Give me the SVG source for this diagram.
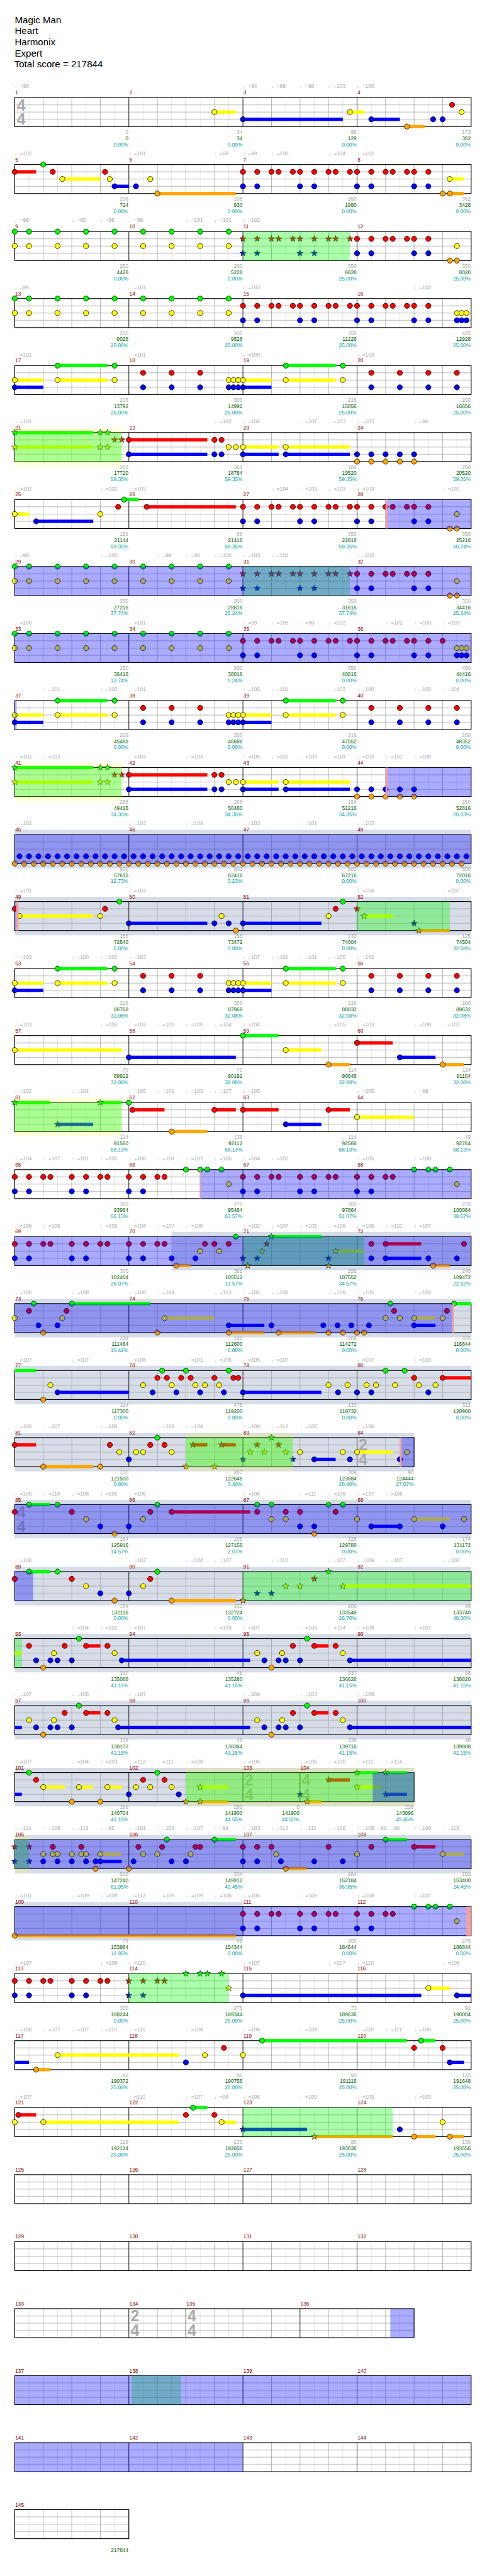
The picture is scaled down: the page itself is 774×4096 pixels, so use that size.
<svg xmlns="http://www.w3.org/2000/svg" width="774" height="4096" viewBox="0 0 774 4096">
<style>
text{font-family:"Liberation Sans",Arial,"DejaVu Sans",sans-serif;font-size:11px}
.hd{font-size:20px;fill:#000}
.tp{fill:#a8a8a8}
.mn{fill:#8b0000}
.nm{text-anchor:end;fill:#a8a8a8}
.n2{fill:#006400}.n3{fill:#00a0a0}
.ts{font-size:33px;font-weight:bold;fill:#aaa}
.bg{fill:#fff}.gb{fill:#d6dde8}.gr{fill:url(#gp)}
.ml{stroke:#000;stroke-width:1;fill:none}
.bd{fill:none;stroke:#000;stroke-width:1.5}
.oy{fill:#ff0;opacity:.15}.og{fill:#0f0;opacity:.33}.ob{fill:#00f;opacity:.33}.pk{fill:#f4a0a0}
.zG{fill:#0f0}.zR{fill:#f00}.zY{fill:#ff0}.zB{fill:#00f}.zO{fill:#ffa500}
</style>
<defs>
<pattern id="gp" x="-15" width="60" height="61" patternUnits="userSpaceOnUse"><path d="M45,0V61" stroke="#dcdcdc"/><path d="M15,0V61M0,15.25H60M0,30.5H60M0,45.75H60" stroke="#a0a0a0"/></pattern>
<circle id="cG" r="5.5" fill="#0f0" stroke="#000"/>
<circle id="cR" cy="15.25" r="5.5" fill="#f00" stroke="#000"/>
<circle id="cY" cy="30.5" r="5.5" fill="#ff0" stroke="#000"/>
<circle id="cB" cy="45.75" r="5.5" fill="#00f" stroke="#000"/>
<circle id="cO" cy="61" r="5.5" fill="#ffa500" stroke="#000"/>
<path id="st" d="M0,-7L1.65,-2.27 6.66,-2.16 2.66,0.87 4.11,5.66 0,2.8-4.11,5.66-2.66,0.87-6.66,-2.16-1.65,-2.27Z" stroke="#000" stroke-width=".8"/>
<use id="sG" href="#st" fill="#0f0"/>
<use id="sR" href="#st" y="15.25" fill="#f00"/>
<use id="sY" href="#st" y="30.5" fill="#ff0"/>
<use id="sB" href="#st" y="45.75" fill="#00f"/>
<use id="sO" href="#st" y="61" fill="#ffa500"/>
<g id="gy"><use href="#cG"/><use href="#cY"/></g>
<g id="gyrow"><use href="#gy"/><use href="#gy" x="30"/><use href="#gy" x="90"/><use href="#gy" x="150"/><use href="#gy" x="210"/><use href="#gy" x="270"/><use href="#gy" x="330"/><use href="#gy" x="390"/><use href="#gy" x="450"/></g>
<g id="rr"><use href="#cR"/><use href="#cR" x="30"/><use href="#cR" x="60"/><use href="#cR" x="75"/><use href="#cR" x="105"/><use href="#cR" x="120"/><use href="#cR" x="150"/><use href="#cR" x="180"/><use href="#cR" x="195"/><use href="#cR" x="225"/><use href="#cR" x="240"/><use href="#cR" x="270"/><use href="#cR" x="300"/><use href="#cR" x="315"/><use href="#cR" x="345"/><use href="#cR" x="360"/><use href="#cR" x="390"/><use href="#cB"/><use href="#cB" x="30"/><use href="#cB" x="120"/><use href="#cB" x="150"/><use href="#cB" x="240"/><use href="#cB" x="270"/><use href="#cB" x="360"/><use href="#cB" x="390"/></g>
<g id="r8"><use href="#cR"/><use href="#cR" x="30"/><use href="#cR" x="60"/><use href="#cR" x="75"/><use href="#cR" x="120"/><use href="#cR" x="150"/><use href="#cR" x="180"/><use href="#cR" x="195"/><use href="#cR" x="240"/><use href="#cR" x="270"/><use href="#cR" x="300"/><use href="#cR" x="315"/><use href="#cB"/><use href="#cB" x="30"/><use href="#cB" x="120"/><use href="#cB" x="150"/><use href="#cB" x="240"/><use href="#cB" x="270"/></g>
<g id="pA"><rect class="zG" x="90" y="-3.5" width="105" height="7"/><rect class="zG" x="570" y="-3.5" width="105" height="7"/><rect class="zY" x="0" y="27" width="60" height="7"/><rect class="zY" x="90" y="27" width="105" height="7"/><rect class="zY" x="480" y="27" width="60" height="7"/><rect class="zY" x="570" y="27" width="105" height="7"/><rect class="zB" x="0" y="42.25" width="60" height="7"/><rect class="zB" x="480" y="42.25" width="60" height="7"/>
<use href="#cG" x="90"/><use href="#cG" x="210"/><use href="#cG" x="570"/><use href="#cG" x="690"/><use href="#cR" x="270"/><use href="#cR" x="330"/><use href="#cR" x="390"/><use href="#cR" x="750"/><use href="#cR" x="810"/><use href="#cR" x="870"/><use href="#cR" x="930"/><use href="#cY"/><use href="#cY" x="90"/><use href="#cY" x="210"/><use href="#cY" x="450"/><use href="#cY" x="460"/><use href="#cY" x="470"/><use href="#cY" x="480"/><use href="#cY" x="570"/><use href="#cY" x="690"/><use href="#cB"/><use href="#cB" x="270"/><use href="#cB" x="330"/><use href="#cB" x="390"/><use href="#cB" x="450"/><use href="#cB" x="460"/><use href="#cB" x="470"/><use href="#cB" x="480"/><use href="#cB" x="750"/><use href="#cB" x="810"/><use href="#cB" x="870"/><use href="#cB" x="930"/></g>
<g id="pB"><use href="#gyrow"/><use href="#sR" x="480"/><use href="#sR" x="510"/><use href="#sR" x="540"/><use href="#sR" x="555"/><use href="#sR" x="585"/><use href="#sR" x="600"/><use href="#sR" x="630"/><use href="#sR" x="660"/><use href="#sR" x="675"/><use href="#sR" x="705"/><use href="#sB" x="480"/><use href="#sB" x="510"/><use href="#sB" x="600"/><use href="#sB" x="630"/><use href="#cR" x="720"/><use href="#cR" x="750"/><use href="#cR" x="780"/><use href="#cR" x="795"/><use href="#cR" x="825"/><use href="#cR" x="840"/><use href="#cR" x="870"/><use href="#cB" x="720"/><use href="#cB" x="750"/><use href="#cB" x="840"/><use href="#cB" x="870"/><use href="#cY" x="930"/><use href="#cO" x="915"/><use href="#cO" x="930"/></g>
<g id="pC"><rect class="zG" x="0" y="-3.5" width="165" height="7"/><rect class="zY" x="0" y="27" width="165" height="7"/><rect class="zR" x="240" y="11.75" width="165" height="7"/><rect class="zB" x="240" y="42.25" width="165" height="7"/><rect class="zY" x="480" y="27" width="75" height="7"/><rect class="zY" x="570" y="27" width="135" height="7"/><rect class="zB" x="480" y="42.25" width="75" height="7"/><rect class="zB" x="570" y="42.25" width="135" height="7"/>
<use href="#sG"/><use href="#sG" x="180"/><use href="#sG" x="195"/><use href="#sY"/><use href="#sY" x="180"/><use href="#sY" x="195"/><use href="#sR" x="210"/><use href="#sR" x="225"/><use href="#cR" x="240"/><use href="#cR" x="420"/><use href="#cR" x="435"/><use href="#cY" x="450"/><use href="#cY" x="465"/><use href="#cY" x="480"/><use href="#cY" x="570"/><use href="#cB" x="240"/><use href="#cB" x="420"/><use href="#cB" x="435"/><use href="#cB" x="480"/><use href="#cB" x="570"/><use href="#cB" x="720"/><use href="#cB" x="750"/><use href="#cB" x="780"/><use href="#cB" x="810"/><use href="#cB" x="840"/><use href="#cO" x="720"/><use href="#cO" x="750"/><use href="#cO" x="780"/><use href="#cO" x="810"/><use href="#cO" x="840"/></g>
<g id="tr6"><use href="#cO"/><use href="#cB" x="10"/><use href="#cO" x="20"/><use href="#cB" x="30"/><use href="#cO" x="40"/><use href="#cB" x="50"/></g>
<g id="stf"><rect class="bg" width="960" height="61"/><rect class="gr" width="960" height="61"/><path class="ml" d="M240,0V61M480,0V61M720,0V61"/><rect class="bd" width="960" height="61"/></g>
<g id="stfg"><rect class="bg" width="960" height="61"/><rect class="gb" y="-10" width="960" height="81"/><rect class="gr" width="960" height="61"/><path class="ml" d="M240,0V61M480,0V61M720,0V61"/><rect class="bd" width="960" height="61"/></g>
</defs>
<g transform="scale(0.7556)">
<g id="header"><text class="hd" x="31" y="49">Magic Man</text><text class="hd" x="31" y="72">Heart</text><text class="hd" x="31" y="95">Harmonix</text><text class="hd" x="31" y="119">Expert</text><text class="hd" x="30" y="141">Total score = 217844</text></g>

<g id="row1" transform="translate(31,205.3)"><use href="#stf"/>
<text class="ts" x="4.5" y="27">4</text><text class="ts" x="4.5" y="57">4</text>
<rect class="zY" x="420" y="27" width="45" height="7"/><rect class="zB" x="480" y="42.25" width="210" height="7"/><rect class="zY" x="705" y="27" width="30" height="7"/><rect class="zB" x="750" y="42.25" width="60" height="7"/><rect class="zO" x="825" y="57.5" width="37.5" height="7"/>
<use href="#cY" x="420"/><use href="#cB" x="480"/><use href="#cY" x="705"/><use href="#cB" x="750"/><use href="#cO" x="825"/><use href="#cB" x="880"/><use href="#cB" x="900"/><use href="#cR" x="920"/><use href="#cY" x="940"/>
<text class="tp" x="0" y="-19.5">♩=98</text><text class="tp" x="480" y="-19.5">♩=94</text><text class="tp" x="540" y="-19.5">♩=99</text><text class="tp" x="600" y="-19.5">♩=98</text><text class="tp" x="660" y="-19.5">♩=103</text><text class="tp" x="720" y="-19.5">♩=100</text>
<text class="mn" x="1" y="-6.5">1</text><text class="mn" x="241" y="-6.5">2</text><text class="mn" x="481" y="-6.5">3</text><text class="mn" x="721" y="-6.5">4</text>
<text class="nm" y="76.5"><tspan x="239">0</tspan><tspan class="n2" x="239" dy="13">0</tspan><tspan class="n3" x="239" dy="13">0.00%</tspan></text><text class="nm" y="76.5"><tspan x="479">34</tspan><tspan class="n2" x="479" dy="13">34</tspan><tspan class="n3" x="479" dy="13">0.00%</tspan></text><text class="nm" y="76.5"><tspan x="719">95</tspan><tspan class="n2" x="719" dy="13">129</tspan><tspan class="n3" x="719" dy="13">0.00%</tspan></text><text class="nm" y="76.5"><tspan x="959">173</tspan><tspan class="n2" x="959" dy="13">302</tspan><tspan class="n3" x="959" dy="13">0.00%</tspan></text>
</g>

<g id="row2" transform="translate(31,346.3)"><use href="#stf"/>
<rect class="zR" x="0" y="11.75" width="45" height="7"/><rect class="zY" x="100" y="27" width="80" height="7"/><rect class="zB" x="210" y="42.25" width="30" height="7"/><rect class="zO" x="300" y="57.5" width="165" height="7"/><rect class="zY" x="915" y="27" width="30" height="7"/><rect class="zO" x="915" y="57.5" width="30" height="7"/>
<use href="#cR"/><use href="#cG" x="60"/><use href="#cR" x="80"/><use href="#cY" x="100"/><use href="#cR" x="190"/><use href="#cY" x="200"/><use href="#cB" x="210"/><use href="#cB" x="255"/><use href="#cY" x="285"/><use href="#cO" x="300"/><use href="#rr" x="480"/><use href="#cO" x="900"/><use href="#cO" x="915"/><use href="#cY" x="915"/>
<text class="tp" x="0" y="-19.5">♩=102</text><text class="tp" x="240" y="-19.5">♩=101</text><text class="tp" x="420" y="-19.5">♩=99</text><text class="tp" x="480" y="-19.5">♩=99</text><text class="tp" x="540" y="-19.5">♩=100</text><text class="tp" x="660" y="-19.5">♩=104</text><text class="tp" x="720" y="-19.5">♩=102</text>
<text class="mn" x="1" y="-6.5">5</text><text class="mn" x="241" y="-6.5">6</text><text class="mn" x="481" y="-6.5">7</text><text class="mn" x="721" y="-6.5">8</text>
<text class="nm" y="76.5"><tspan x="239">206</tspan><tspan class="n2" x="239" dy="13">714</tspan><tspan class="n3" x="239" dy="13">0.00%</tspan></text><text class="nm" y="76.5"><tspan x="479">108</tspan><tspan class="n2" x="479" dy="13">930</tspan><tspan class="n3" x="479" dy="13">0.00%</tspan></text><text class="nm" y="76.5"><tspan x="719">350</tspan><tspan class="n2" x="719" dy="13">1980</tspan><tspan class="n3" x="719" dy="13">0.00%</tspan></text><text class="nm" y="76.5"><tspan x="959">362</tspan><tspan class="n2" x="959" dy="13">3428</tspan><tspan class="n3" x="959" dy="13">0.00%</tspan></text>
</g>

<g id="row3" transform="translate(31,487.3)"><use href="#stf"/><use href="#pB"/>
<rect class="og" x="480" width="225" height="61"/>
<text class="tp" x="0" y="-19.5">♩=99</text><text class="tp" x="120" y="-19.5">♩=95</text><text class="tp" x="180" y="-19.5">♩=96</text><text class="tp" x="240" y="-19.5">♩=99</text><text class="tp" x="360" y="-19.5">♩=101</text><text class="tp" x="420" y="-19.5">♩=101</text><text class="tp" x="480" y="-19.5">♩=102</text>
<text class="mn" x="1" y="-6.5">9</text><text class="mn" x="241" y="-6.5">10</text><text class="mn" x="481" y="-6.5">11</text><text class="mn" x="721" y="-6.5">12</text>
<text class="nm" y="76.5"><tspan x="239">250</tspan><tspan class="n2" x="239" dy="13">4428</tspan><tspan class="n3" x="239" dy="13">0.00%</tspan></text><text class="nm" y="76.5"><tspan x="479">200</tspan><tspan class="n2" x="479" dy="13">5228</tspan><tspan class="n3" x="479" dy="13">0.00%</tspan></text><text class="nm" y="76.5"><tspan x="719">350</tspan><tspan class="n2" x="719" dy="13">6628</tspan><tspan class="n3" x="719" dy="13">25.00%</tspan></text><text class="nm" y="76.5"><tspan x="959">350</tspan><tspan class="n2" x="959" dy="13">8028</tspan><tspan class="n3" x="959" dy="13">25.00%</tspan></text>
</g>

<g id="row4" transform="translate(31,628.3)"><use href="#stf"/>
<use href="#gyrow"/><use href="#rr" x="480"/><use href="#cY" x="930"/><use href="#cY" x="940"/><use href="#cY" x="950"/><use href="#cB" x="930"/><use href="#cB" x="940"/><use href="#cB" x="950"/>
<text class="tp" x="0" y="-19.5">♩=99</text><text class="tp" x="240" y="-19.5">♩=101</text><text class="tp" x="480" y="-19.5">♩=103</text><text class="tp" x="840" y="-19.5">♩=102</text>
<text class="mn" x="1" y="-6.5">13</text><text class="mn" x="241" y="-6.5">14</text><text class="mn" x="481" y="-6.5">15</text><text class="mn" x="721" y="-6.5">16</text>
<text class="nm" y="76.5"><tspan x="239">250</tspan><tspan class="n2" x="239" dy="13">9028</tspan><tspan class="n3" x="239" dy="13">25.00%</tspan></text><text class="nm" y="76.5"><tspan x="479">200</tspan><tspan class="n2" x="479" dy="13">9828</tspan><tspan class="n3" x="479" dy="13">25.00%</tspan></text><text class="nm" y="76.5"><tspan x="719">350</tspan><tspan class="n2" x="719" dy="13">11228</tspan><tspan class="n3" x="719" dy="13">25.00%</tspan></text><text class="nm" y="76.5"><tspan x="959">425</tspan><tspan class="n2" x="959" dy="13">12928</tspan><tspan class="n3" x="959" dy="13">25.00%</tspan></text>
</g>

<g id="row5" transform="translate(31,769.3)"><use href="#stf"/><use href="#pA"/>
<text class="tp" x="0" y="-19.5">♩=101</text><text class="tp" x="240" y="-19.5">♩=101</text><text class="tp" x="480" y="-19.5">♩=100</text><text class="tp" x="720" y="-19.5">♩=103</text>
<text class="mn" x="1" y="-6.5">17</text><text class="mn" x="241" y="-6.5">18</text><text class="mn" x="481" y="-6.5">19</text><text class="mn" x="721" y="-6.5">20</text>
<text class="nm" y="76.5"><tspan x="239">216</tspan><tspan class="n2" x="239" dy="13">13792</tspan><tspan class="n3" x="239" dy="13">25.00%</tspan></text><text class="nm" y="76.5"><tspan x="479">300</tspan><tspan class="n2" x="479" dy="13">14992</tspan><tspan class="n3" x="479" dy="13">25.00%</tspan></text><text class="nm" y="76.5"><tspan x="719">216</tspan><tspan class="n2" x="719" dy="13">15856</tspan><tspan class="n3" x="719" dy="13">25.00%</tspan></text><text class="nm" y="76.5"><tspan x="959">200</tspan><tspan class="n2" x="959" dy="13">16656</tspan><tspan class="n3" x="959" dy="13">25.00%</tspan></text>
</g>

<g id="row6" transform="translate(31,910.3)"><use href="#stf"/><use href="#pC"/>
<rect class="oy" y="-10" width="225" height="81"/><rect class="og" width="225" height="61"/>
<text class="tp" x="0" y="-19.5">♩=101</text><text class="tp" x="420" y="-19.5">♩=102</text><text class="tp" x="480" y="-19.5">♩=104</text><text class="tp" x="600" y="-19.5">♩=107</text><text class="tp" x="660" y="-19.5">♩=103</text><text class="tp" x="720" y="-19.5">♩=103</text><text class="tp" x="840" y="-19.5">♩=96</text>
<text class="mn" x="1" y="-6.5">21</text><text class="mn" x="241" y="-6.5">22</text><text class="mn" x="481" y="-6.5">23</text><text class="mn" x="721" y="-6.5">24</text>
<text class="nm" y="76.5"><tspan x="239">266</tspan><tspan class="n2" x="239" dy="13">17720</tspan><tspan class="n3" x="239" dy="13">59.35%</tspan></text><text class="nm" y="76.5"><tspan x="479">266</tspan><tspan class="n2" x="479" dy="13">18784</tspan><tspan class="n3" x="479" dy="13">59.35%</tspan></text><text class="nm" y="76.5"><tspan x="719">184</tspan><tspan class="n2" x="719" dy="13">19520</tspan><tspan class="n3" x="719" dy="13">59.35%</tspan></text><text class="nm" y="76.5"><tspan x="959">250</tspan><tspan class="n2" x="959" dy="13">20520</tspan><tspan class="n3" x="959" dy="13">59.35%</tspan></text>
</g>

<g id="row7" transform="translate(31,1051.3)"><use href="#stf"/>
<rect class="zY" x="0" y="27" width="30" height="7"/><rect class="zB" x="45" y="42.25" width="120" height="7"/><rect class="zG" x="230" y="-3.5" width="31" height="7"/><rect class="zR" x="277.5" y="11.75" width="187.5" height="7"/>
<use href="#cY"/><use href="#cB" x="45"/><use href="#cY" x="180"/><use href="#cR" x="217.5"/><use href="#cG" x="230"/><use href="#cR" x="277.5"/><use href="#rr" x="480"/><use href="#cY" x="930"/><use href="#cO" x="915"/><use href="#cO" x="930"/>
<rect class="ob" x="780" width="180" height="61"/><rect class="pk" x="780" width="4" height="61"/>
<text class="tp" x="0" y="-19.5">♩=101</text><text class="tp" x="180" y="-19.5">♩=102</text><text class="tp" x="240" y="-19.5">♩=102</text><text class="tp" x="540" y="-19.5">♩=104</text><text class="tp" x="600" y="-19.5">♩=102</text><text class="tp" x="660" y="-19.5">♩=103</text><text class="tp" x="720" y="-19.5">♩=103</text><text class="tp" x="900" y="-19.5">♩=102</text>
<text class="mn" x="1" y="-6.5">25</text><text class="mn" x="241" y="-6.5">26</text><text class="mn" x="481" y="-6.5">27</text><text class="mn" x="721" y="-6.5">28</text>
<text class="nm" y="76.5"><tspan x="239">156</tspan><tspan class="n2" x="239" dy="13">21144</tspan><tspan class="n3" x="239" dy="13">59.35%</tspan></text><text class="nm" y="76.5"><tspan x="479">68</tspan><tspan class="n2" x="479" dy="13">21416</tspan><tspan class="n3" x="479" dy="13">59.35%</tspan></text><text class="nm" y="76.5"><tspan x="719">350</tspan><tspan class="n2" x="719" dy="13">22816</tspan><tspan class="n3" x="719" dy="13">59.35%</tspan></text><text class="nm" y="76.5"><tspan x="959">350</tspan><tspan class="n2" x="959" dy="13">25216</tspan><tspan class="n3" x="959" dy="13">50.24%</tspan></text>
</g>

<g id="row8" transform="translate(31,1192.3)"><use href="#stf"/><use href="#pB"/>
<rect class="og" x="480" width="225" height="61"/><rect class="ob" width="960" height="61"/>
<text class="tp" x="0" y="-19.5">♩=99</text><text class="tp" x="180" y="-19.5">♩=100</text><text class="tp" x="300" y="-19.5">♩=99</text><text class="tp" x="360" y="-19.5">♩=98</text><text class="tp" x="420" y="-19.5">♩=100</text><text class="tp" x="480" y="-19.5">♩=103</text><text class="tp" x="540" y="-19.5">♩=102</text><text class="tp" x="720" y="-19.5">♩=102</text>
<text class="mn" x="1" y="-6.5">29</text><text class="mn" x="241" y="-6.5">30</text><text class="mn" x="481" y="-6.5">31</text><text class="mn" x="721" y="-6.5">32</text>
<text class="nm" y="76.5"><tspan x="239">250</tspan><tspan class="n2" x="239" dy="13">27216</tspan><tspan class="n3" x="239" dy="13">37.74%</tspan></text><text class="nm" y="76.5"><tspan x="479">200</tspan><tspan class="n2" x="479" dy="13">28816</tspan><tspan class="n3" x="479" dy="13">25.24%</tspan></text><text class="nm" y="76.5"><tspan x="719">350</tspan><tspan class="n2" x="719" dy="13">31616</tspan><tspan class="n3" x="719" dy="13">37.74%</tspan></text><text class="nm" y="76.5"><tspan x="959">350</tspan><tspan class="n2" x="959" dy="13">34416</tspan><tspan class="n3" x="959" dy="13">25.24%</tspan></text>
</g>

<g id="row9" transform="translate(31,1333.3)"><use href="#stf"/>
<use href="#gyrow"/><use href="#rr" x="480"/><use href="#cR" x="900"/><use href="#cY" x="930"/><use href="#cY" x="940"/><use href="#cY" x="950"/><use href="#cB" x="930"/><use href="#cB" x="940"/><use href="#cB" x="950"/>
<rect class="ob" width="960" height="61"/>
<text class="tp" x="0" y="-19.5">♩=100</text><text class="tp" x="240" y="-19.5">♩=101</text><text class="tp" x="480" y="-19.5">♩=99</text><text class="tp" x="540" y="-19.5">♩=105</text><text class="tp" x="600" y="-19.5">♩=99</text><text class="tp" x="660" y="-19.5">♩=102</text><text class="tp" x="780" y="-19.5">♩=102</text><text class="tp" x="840" y="-19.5">♩=103</text><text class="tp" x="900" y="-19.5">♩=103</text>
<text class="mn" x="1" y="-6.5">33</text><text class="mn" x="241" y="-6.5">34</text><text class="mn" x="481" y="-6.5">35</text><text class="mn" x="721" y="-6.5">36</text>
<text class="nm" y="76.5"><tspan x="239">250</tspan><tspan class="n2" x="239" dy="13">36416</tspan><tspan class="n3" x="239" dy="13">12.74%</tspan></text><text class="nm" y="76.5"><tspan x="479">200</tspan><tspan class="n2" x="479" dy="13">38016</tspan><tspan class="n3" x="479" dy="13">0.24%</tspan></text><text class="nm" y="76.5"><tspan x="719">350</tspan><tspan class="n2" x="719" dy="13">40816</tspan><tspan class="n3" x="719" dy="13">0.00%</tspan></text><text class="nm" y="76.5"><tspan x="959">450</tspan><tspan class="n2" x="959" dy="13">44416</tspan><tspan class="n3" x="959" dy="13">0.00%</tspan></text>
</g>

<g id="row10" transform="translate(31,1474.3)"><use href="#stf"/><use href="#pA"/>
<rect class="ob" width="4" height="61"/>
<text class="tp" x="60" y="-19.5">♩=101</text><text class="tp" x="180" y="-19.5">♩=103</text><text class="tp" x="240" y="-19.5">♩=101</text><text class="tp" x="480" y="-19.5">♩=105</text><text class="tp" x="540" y="-19.5">♩=101</text><text class="tp" x="660" y="-19.5">♩=103</text><text class="tp" x="720" y="-19.5">♩=100</text><text class="tp" x="840" y="-19.5">♩=102</text><text class="tp" x="900" y="-19.5">♩=104</text>
<text class="mn" x="1" y="-6.5">37</text><text class="mn" x="241" y="-6.5">38</text><text class="mn" x="481" y="-6.5">39</text><text class="mn" x="721" y="-6.5">40</text>
<text class="nm" y="76.5"><tspan x="239">216</tspan><tspan class="n2" x="239" dy="13">45488</tspan><tspan class="n3" x="239" dy="13">0.00%</tspan></text><text class="nm" y="76.5"><tspan x="479">300</tspan><tspan class="n2" x="479" dy="13">46688</tspan><tspan class="n3" x="479" dy="13">0.00%</tspan></text><text class="nm" y="76.5"><tspan x="719">216</tspan><tspan class="n2" x="719" dy="13">47552</tspan><tspan class="n3" x="719" dy="13">0.00%</tspan></text><text class="nm" y="76.5"><tspan x="959">200</tspan><tspan class="n2" x="959" dy="13">48352</tspan><tspan class="n3" x="959" dy="13">0.00%</tspan></text>
</g>

<g id="row11" transform="translate(31,1615.3)"><use href="#stf"/><use href="#pC"/>
<rect class="oy" y="-10" width="225" height="81"/><rect class="og" width="225" height="61"/><rect class="ob" x="780" width="180" height="61"/><rect class="pk" x="780" width="4" height="61"/>
<text class="tp" x="0" y="-19.5">♩=103</text><text class="tp" x="60" y="-19.5">♩=103</text><text class="tp" x="240" y="-19.5">♩=103</text><text class="tp" x="360" y="-19.5">♩=103</text><text class="tp" x="480" y="-19.5">♩=105</text><text class="tp" x="540" y="-19.5">♩=102</text><text class="tp" x="600" y="-19.5">♩=103</text><text class="tp" x="660" y="-19.5">♩=110</text><text class="tp" x="720" y="-19.5">♩=103</text><text class="tp" x="780" y="-19.5">♩=101</text><text class="tp" x="840" y="-19.5">♩=100</text>
<text class="mn" x="1" y="-6.5">41</text><text class="mn" x="241" y="-6.5">42</text><text class="mn" x="481" y="-6.5">43</text><text class="mn" x="721" y="-6.5">44</text>
<text class="nm" y="76.5"><tspan x="239">266</tspan><tspan class="n2" x="239" dy="13">49416</tspan><tspan class="n3" x="239" dy="13">34.35%</tspan></text><text class="nm" y="76.5"><tspan x="479">266</tspan><tspan class="n2" x="479" dy="13">50480</tspan><tspan class="n3" x="479" dy="13">34.35%</tspan></text><text class="nm" y="76.5"><tspan x="719">184</tspan><tspan class="n2" x="719" dy="13">51216</tspan><tspan class="n3" x="719" dy="13">34.35%</tspan></text><text class="nm" y="76.5"><tspan x="959">250</tspan><tspan class="n2" x="959" dy="13">52816</tspan><tspan class="n3" x="959" dy="13">25.23%</tspan></text>
</g>

<g id="row12" transform="translate(31,1756.3)"><use href="#stfg"/>
<use href="#tr6"/><use href="#tr6" x="60"/><use href="#tr6" x="120"/><use href="#tr6" x="180"/><use href="#tr6" x="240"/><use href="#tr6" x="300"/><use href="#tr6" x="360"/><use href="#tr6" x="420"/><use href="#tr6" x="480"/><use href="#tr6" x="540"/><use href="#tr6" x="600"/><use href="#tr6" x="660"/><use href="#tr6" x="720"/><use href="#tr6" x="780"/><use href="#tr6" x="840"/><use href="#tr6" x="900"/>
<rect class="ob" width="960" height="61"/>
<text class="tp" x="0" y="-19.5">♩=102</text><text class="tp" x="240" y="-19.5">♩=103</text><text class="tp" x="360" y="-19.5">♩=104</text><text class="tp" x="480" y="-19.5">♩=103</text><text class="tp" x="600" y="-19.5">♩=101</text><text class="tp" x="720" y="-19.5">♩=103</text>
<text class="mn" x="1" y="-6.5">45</text><text class="mn" x="241" y="-6.5">46</text><text class="mn" x="481" y="-6.5">47</text><text class="mn" x="721" y="-6.5">48</text>
<text class="nm" y="76.5"><tspan x="239">600</tspan><tspan class="n2" x="239" dy="13">57616</tspan><tspan class="n3" x="239" dy="13">12.73%</tspan></text><text class="nm" y="76.5"><tspan x="479">600</tspan><tspan class="n2" x="479" dy="13">62416</tspan><tspan class="n3" x="479" dy="13">0.23%</tspan></text><text class="nm" y="76.5"><tspan x="719">600</tspan><tspan class="n2" x="719" dy="13">67216</tspan><tspan class="n3" x="719" dy="13">0.00%</tspan></text><text class="nm" y="76.5"><tspan x="959">600</tspan><tspan class="n2" x="959" dy="13">72016</tspan><tspan class="n3" x="959" dy="13">0.00%</tspan></text>
</g>

<g id="row13" transform="translate(31,1897.3)"><use href="#stfg"/>
<rect class="zY" x="10" y="27" width="155" height="7"/><rect class="zB" x="240" y="42.25" width="165" height="7"/><rect class="zB" x="480" y="42.25" width="165" height="7"/><rect class="zY" x="735" y="27" width="60" height="7"/><rect class="zO" x="850" y="57.5" width="65" height="7"/>
<use href="#cR"/><use href="#cY" x="10"/><use href="#cY" x="180"/><use href="#cR" x="190"/><use href="#cG" x="220"/><use href="#cB" x="240"/><use href="#cB" x="420"/><use href="#cY" x="435"/><use href="#cB" x="450"/><use href="#cO" x="465"/><use href="#cB" x="480"/><use href="#cY" x="660"/><use href="#cR" x="675"/><use href="#cG" x="690"/><use href="#sR" x="720"/><use href="#sY" x="735"/><use href="#sB" x="840"/><use href="#sO" x="850"/>
<rect class="og" x="720" width="195" height="61"/><rect class="ob" width="3" height="61"/><rect class="pk" x="3" width="5" height="61"/>
<text class="tp" x="0" y="-19.5">♩=101</text><text class="tp" x="240" y="-19.5">♩=103</text><text class="tp" x="720" y="-19.5">♩=104</text><text class="tp" x="900" y="-19.5">♩=107</text>
<text class="mn" x="1" y="-6.5">49</text><text class="mn" x="241" y="-6.5">50</text><text class="mn" x="481" y="-6.5">51</text><text class="mn" x="721" y="-6.5">52</text>
<text class="nm" y="76.5"><tspan x="239">156</tspan><tspan class="n2" x="239" dy="13">72840</tspan><tspan class="n3" x="239" dy="13">0.00%</tspan></text><text class="nm" y="76.5"><tspan x="479">158</tspan><tspan class="n2" x="479" dy="13">73472</tspan><tspan class="n3" x="479" dy="13">0.00%</tspan></text><text class="nm" y="76.5"><tspan x="719">133</tspan><tspan class="n2" x="719" dy="13">74004</tspan><tspan class="n3" x="719" dy="13">0.00%</tspan></text><text class="nm" y="76.5"><tspan x="959">125</tspan><tspan class="n2" x="959" dy="13">74504</tspan><tspan class="n3" x="959" dy="13">32.08%</tspan></text>
</g>

<g id="row14" transform="translate(31,2038.3)"><use href="#stf"/><use href="#pA"/>
<text class="tp" x="0" y="-19.5">♩=103</text><text class="tp" x="120" y="-19.5">♩=100</text><text class="tp" x="180" y="-19.5">♩=102</text><text class="tp" x="240" y="-19.5">♩=103</text><text class="tp" x="480" y="-19.5">♩=107</text><text class="tp" x="540" y="-19.5">♩=101</text><text class="tp" x="600" y="-19.5">♩=101</text><text class="tp" x="660" y="-19.5">♩=105</text><text class="tp" x="720" y="-19.5">♩=102</text>
<text class="mn" x="1" y="-6.5">53</text><text class="mn" x="241" y="-6.5">54</text><text class="mn" x="481" y="-6.5">55</text><text class="mn" x="721" y="-6.5">56</text>
<text class="nm" y="76.5"><tspan x="239">216</tspan><tspan class="n2" x="239" dy="13">86768</tspan><tspan class="n3" x="239" dy="13">32.08%</tspan></text><text class="nm" y="76.5"><tspan x="479">300</tspan><tspan class="n2" x="479" dy="13">87968</tspan><tspan class="n3" x="479" dy="13">32.08%</tspan></text><text class="nm" y="76.5"><tspan x="719">216</tspan><tspan class="n2" x="719" dy="13">88832</tspan><tspan class="n3" x="719" dy="13">32.08%</tspan></text><text class="nm" y="76.5"><tspan x="959">200</tspan><tspan class="n2" x="959" dy="13">89632</tspan><tspan class="n3" x="959" dy="13">32.08%</tspan></text>
</g>

<g id="row15" transform="translate(31,2179.3)"><use href="#stf"/>
<rect class="zG" x="480" y="-3.5" width="75" height="7"/><rect class="zR" x="720" y="11.75" width="75" height="7"/><rect class="zY" x="0" y="27" width="225" height="7"/><rect class="zY" x="570" y="27" width="75" height="7"/><rect class="zB" x="240" y="42.25" width="225" height="7"/><rect class="zB" x="810" y="42.25" width="75" height="7"/><rect class="zO" x="660" y="57.5" width="45" height="7"/><rect class="zO" x="900" y="57.5" width="45" height="7"/>
<use href="#cG" x="480"/><use href="#cR" x="720"/><use href="#cY"/><use href="#cY" x="570"/><use href="#cB" x="240"/><use href="#cB" x="810"/><use href="#cO" x="660"/><use href="#cO" x="900"/>
<text class="tp" x="0" y="-19.5">♩=103</text><text class="tp" x="180" y="-19.5">♩=105</text><text class="tp" x="240" y="-19.5">♩=103</text><text class="tp" x="300" y="-19.5">♩=102</text><text class="tp" x="360" y="-19.5">♩=100</text><text class="tp" x="420" y="-19.5">♩=104</text><text class="tp" x="480" y="-19.5">♩=104</text><text class="tp" x="660" y="-19.5">♩=105</text><text class="tp" x="720" y="-19.5">♩=103</text><text class="tp" x="840" y="-19.5">♩=108</text><text class="tp" x="900" y="-19.5">♩=103</text>
<text class="mn" x="1" y="-6.5">57</text><text class="mn" x="241" y="-6.5">58</text><text class="mn" x="481" y="-6.5">59</text><text class="mn" x="721" y="-6.5">60</text>
<text class="nm" y="76.5"><tspan x="239">70</tspan><tspan class="n2" x="239" dy="13">89912</tspan><tspan class="n3" x="239" dy="13">32.08%</tspan></text><text class="nm" y="76.5"><tspan x="479">70</tspan><tspan class="n2" x="479" dy="13">90192</tspan><tspan class="n3" x="479" dy="13">32.08%</tspan></text><text class="nm" y="76.5"><tspan x="719">114</tspan><tspan class="n2" x="719" dy="13">90648</tspan><tspan class="n3" x="719" dy="13">32.08%</tspan></text><text class="nm" y="76.5"><tspan x="959">114</tspan><tspan class="n2" x="959" dy="13">91104</tspan><tspan class="n3" x="959" dy="13">32.08%</tspan></text>
</g>

<g id="row16" transform="translate(31,2320.3)"><use href="#stf"/>
<rect class="zG" x="0" y="-3.5" width="75" height="7"/><rect class="zG" x="180" y="-3.5" width="45" height="7"/><rect class="zB" x="90" y="42.25" width="75" height="7"/><rect class="zR" x="247.5" y="11.75" width="67.5" height="7"/><rect class="zO" x="330" y="57.5" width="75" height="7"/><rect class="zR" x="420" y="11.75" width="45" height="7"/><rect class="zR" x="480" y="11.75" width="75" height="7"/><rect class="zB" x="570" y="42.25" width="75" height="7"/><rect class="zR" x="660" y="11.75" width="45" height="7"/><rect class="zY" x="720" y="27" width="120" height="7"/>
<use href="#sG"/><use href="#sG" x="180"/><use href="#sB" x="90"/><use href="#cG" x="240"/><use href="#cR" x="247.5"/><use href="#cO" x="330"/><use href="#cR" x="420"/><use href="#cR" x="480"/><use href="#cB" x="570"/><use href="#cR" x="660"/><use href="#cY" x="720"/>
<rect class="oy" y="-10" width="225" height="81"/><rect class="og" width="225" height="61"/>
<text class="tp" x="0" y="-19.5">♩=102</text><text class="tp" x="120" y="-19.5">♩=104</text><text class="tp" x="240" y="-19.5">♩=105</text><text class="tp" x="300" y="-19.5">♩=101</text><text class="tp" x="360" y="-19.5">♩=103</text><text class="tp" x="420" y="-19.5">♩=107</text><text class="tp" x="480" y="-19.5">♩=105</text><text class="tp" x="720" y="-19.5">♩=105</text><text class="tp" x="840" y="-19.5">♩=99</text>
<text class="mn" x="1" y="-6.5">61</text><text class="mn" x="241" y="-6.5">62</text><text class="mn" x="481" y="-6.5">63</text><text class="mn" x="721" y="-6.5">64</text>
<text class="nm" y="76.5"><tspan x="239">114</tspan><tspan class="n2" x="239" dy="13">91560</tspan><tspan class="n3" x="239" dy="13">68.13%</tspan></text><text class="nm" y="76.5"><tspan x="479">138</tspan><tspan class="n2" x="479" dy="13">92112</tspan><tspan class="n3" x="479" dy="13">68.13%</tspan></text><text class="nm" y="76.5"><tspan x="719">114</tspan><tspan class="n2" x="719" dy="13">92568</tspan><tspan class="n3" x="719" dy="13">68.13%</tspan></text><text class="nm" y="76.5"><tspan x="959">49</tspan><tspan class="n2" x="959" dy="13">92764</tspan><tspan class="n3" x="959" dy="13">68.13%</tspan></text>
</g>

<g id="row17" transform="translate(31,2461.3)"><use href="#stf"/>
<use href="#r8"/><use href="#r8" x="480"/><use href="#cG" x="360"/><use href="#cG" x="390"/><use href="#cG" x="405"/><use href="#cG" x="435"/><use href="#cY" x="450"/><use href="#cG" x="840"/><use href="#cG" x="870"/><use href="#cG" x="885"/><use href="#cG" x="915"/><use href="#cY" x="930"/>
<rect class="ob" x="390" width="570" height="61"/><rect class="pk" x="389" width="2" height="61"/>
<text class="tp" x="0" y="-19.5">♩=104</text><text class="tp" x="60" y="-19.5">♩=107</text><text class="tp" x="120" y="-19.5">♩=101</text><text class="tp" x="180" y="-19.5">♩=105</text><text class="tp" x="240" y="-19.5">♩=106</text><text class="tp" x="300" y="-19.5">♩=110</text><text class="tp" x="360" y="-19.5">♩=107</text><text class="tp" x="420" y="-19.5">♩=106</text><text class="tp" x="480" y="-19.5">♩=104</text><text class="tp" x="540" y="-19.5">♩=107</text><text class="tp" x="720" y="-19.5">♩=105</text><text class="tp" x="840" y="-19.5">♩=108</text>
<text class="mn" x="1" y="-6.5">65</text><text class="mn" x="241" y="-6.5">66</text><text class="mn" x="481" y="-6.5">67</text><text class="mn" x="721" y="-6.5">68</text>
<text class="nm" y="76.5"><tspan x="239">300</tspan><tspan class="n2" x="239" dy="13">93964</tspan><tspan class="n3" x="239" dy="13">68.13%</tspan></text><text class="nm" y="76.5"><tspan x="479">275</tspan><tspan class="n2" x="479" dy="13">95464</tspan><tspan class="n3" x="479" dy="13">63.57%</tspan></text><text class="nm" y="76.5"><tspan x="719">300</tspan><tspan class="n2" x="719" dy="13">97864</tspan><tspan class="n3" x="719" dy="13">51.07%</tspan></text><text class="nm" y="76.5"><tspan x="959">275</tspan><tspan class="n2" x="959" dy="13">100064</tspan><tspan class="n3" x="959" dy="13">38.57%</tspan></text>
</g>

<g id="row18" transform="translate(31,2602.3)"><rect class="bg" width="960" height="61"/><rect class="gb" x="330" y="-10" width="630" height="81"/><rect class="gr" width="960" height="61"/><path class="ml" d="M240,0V61M480,0V61M720,0V61"/><rect class="bd" width="960" height="61"/>
<rect class="zO" x="340" y="57.5" width="30" height="7"/><rect class="zG" x="540" y="-3.5" width="105" height="7"/><rect class="zY" x="675" y="27" width="60" height="7"/><rect class="zR" x="780" y="11.75" width="75" height="7"/><rect class="zB" x="780" y="42.25" width="75" height="7"/><rect class="zO" x="880" y="57.5" width="35" height="7"/>
<use href="#r8"/><use href="#cB" x="330"/><use href="#cB" x="380"/><use href="#cO" x="340"/><use href="#cY" x="390"/><use href="#cR" x="400"/><use href="#cR" x="420"/><use href="#cY" x="430"/><use href="#cR" x="450"/><use href="#cG" x="465"/><use href="#sB" x="480"/><use href="#sO" x="490"/><use href="#sB" x="510"/><use href="#sY" x="520"/><use href="#sR" x="530"/><use href="#sG" x="540"/><use href="#sB" x="660"/><use href="#sO" x="660"/><use href="#sY" x="675"/><use href="#cR" x="750"/><use href="#cB" x="750"/><use href="#cR" x="780"/><use href="#cB" x="780"/><use href="#cB" x="870"/><use href="#cO" x="880"/><use href="#cB" x="930"/><use href="#cR" x="945"/>
<rect class="og" x="480" width="255" height="61"/><rect class="ob" width="960" height="61"/>
<text class="tp" x="0" y="-19.5">♩=106</text><text class="tp" x="60" y="-19.5">♩=106</text><text class="tp" x="180" y="-19.5">♩=109</text><text class="tp" x="240" y="-19.5">♩=104</text><text class="tp" x="300" y="-19.5">♩=107</text><text class="tp" x="360" y="-19.5">♩=108</text><text class="tp" x="480" y="-19.5">♩=102</text><text class="tp" x="540" y="-19.5">♩=107</text><text class="tp" x="600" y="-19.5">♩=105</text><text class="tp" x="660" y="-19.5">♩=106</text><text class="tp" x="720" y="-19.5">♩=106</text><text class="tp" x="780" y="-19.5">♩=110</text><text class="tp" x="840" y="-19.5">♩=107</text>
<text class="mn" x="1" y="-6.5">69</text><text class="mn" x="241" y="-6.5">70</text><text class="mn" x="481" y="-6.5">71</text><text class="mn" x="721" y="-6.5">72</text>
<text class="nm" y="76.5"><tspan x="239">300</tspan><tspan class="n2" x="239" dy="13">102464</tspan><tspan class="n3" x="239" dy="13">26.07%</tspan></text><text class="nm" y="76.5"><tspan x="479">381</tspan><tspan class="n2" x="479" dy="13">105512</tspan><tspan class="n3" x="479" dy="13">13.57%</tspan></text><text class="nm" y="76.5"><tspan x="719">255</tspan><tspan class="n2" x="719" dy="13">107552</tspan><tspan class="n3" x="719" dy="13">34.57%</tspan></text><text class="nm" y="76.5"><tspan x="959">240</tspan><tspan class="n2" x="959" dy="13">109472</tspan><tspan class="n3" x="959" dy="13">22.92%</tspan></text>
</g>

<g id="row19" transform="translate(31,2743.3)"><use href="#stfg"/>
<rect class="zG" x="120" y="-3.5" width="165" height="7"/><rect class="zY" x="315" y="27" width="105" height="7"/><rect class="zB" x="450" y="42.25" width="75" height="7"/><rect class="zO" x="450" y="57.5" width="75" height="7"/><rect class="zO" x="555" y="57.5" width="78" height="7"/><rect class="zY" x="840" y="27" width="45" height="7"/><rect class="zB" x="840" y="42.25" width="45" height="7"/><rect class="zG" x="924" y="-3.5" width="36" height="7"/>
<use href="#cY"/><use href="#cR" x="30"/><use href="#cG" x="40"/><use href="#cB" x="50"/><use href="#cO" x="60"/><use href="#cB" x="90"/><use href="#cY" x="100"/><use href="#cR" x="109"/><use href="#cG" x="120"/><use href="#cO" x="300"/><use href="#cY" x="315"/><use href="#cB" x="450"/><use href="#cO" x="450"/><use href="#cB" x="540"/><use href="#cO" x="555"/><use href="#cB" x="649"/><use href="#cO" x="660"/><use href="#cB" x="679"/><use href="#cO" x="690"/><use href="#cB" x="708"/><use href="#cO" x="720"/><use href="#cO" x="735"/><use href="#cB" x="745"/><use href="#cY" x="780"/><use href="#cG" x="790"/><use href="#cR" x="798"/><use href="#cY" x="810"/><use href="#cY" x="840"/><use href="#cB" x="840"/><use href="#cY" x="900"/><use href="#cR" x="909"/><use href="#cG" x="924"/>
<rect class="ob" width="920" height="61"/><rect class="pk" x="920" width="4" height="61"/>
<text class="tp" x="0" y="-19.5">♩=106</text><text class="tp" x="120" y="-19.5">♩=108</text><text class="tp" x="240" y="-19.5">♩=108</text><text class="tp" x="300" y="-19.5">♩=104</text><text class="tp" x="420" y="-19.5">♩=103</text><text class="tp" x="480" y="-19.5">♩=105</text><text class="tp" x="540" y="-19.5">♩=106</text><text class="tp" x="660" y="-19.5">♩=109</text><text class="tp" x="720" y="-19.5">♩=105</text><text class="tp" x="840" y="-19.5">♩=102</text>
<text class="mn" x="1" y="-6.5">73</text><text class="mn" x="241" y="-6.5">74</text><text class="mn" x="481" y="-6.5">75</text><text class="mn" x="721" y="-6.5">76</text>
<text class="nm" y="76.5"><tspan x="239">249</tspan><tspan class="n2" x="239" dy="13">111464</tspan><tspan class="n3" x="239" dy="13">10.42%</tspan></text><text class="nm" y="76.5"><tspan x="479">142</tspan><tspan class="n2" x="479" dy="13">112600</tspan><tspan class="n3" x="479" dy="13">0.00%</tspan></text><text class="nm" y="76.5"><tspan x="719">209</tspan><tspan class="n2" x="719" dy="13">114272</tspan><tspan class="n3" x="719" dy="13">0.00%</tspan></text><text class="nm" y="76.5"><tspan x="959">325</tspan><tspan class="n2" x="959" dy="13">116844</tspan><tspan class="n3" x="959" dy="13">0.00%</tspan></text>
</g>

<g id="row20" transform="translate(31,2884.3)"><use href="#stfg"/>
<rect class="zG" x="0" y="-3.5" width="45" height="7"/><rect class="zB" x="90" y="42.25" width="150" height="7"/><rect class="zB" x="480" y="42.25" width="165" height="7"/><rect class="zR" x="900" y="11.75" width="60" height="7"/>
<use href="#cO" x="60"/><use href="#cY" x="75"/><use href="#cB" x="90"/><use href="#cY" x="270"/><use href="#cB" x="290"/><use href="#cR" x="300"/><use href="#cG" x="310"/><use href="#cR" x="320"/><use href="#cY" x="330"/><use href="#cB" x="340"/><use href="#cR" x="350"/><use href="#cG" x="360"/><use href="#cR" x="370"/><use href="#cY" x="380"/><use href="#cB" x="390"/><use href="#cY" x="400"/><use href="#cR" x="420"/><use href="#cY" x="430"/><use href="#cB" x="440"/><use href="#cG" x="450"/><use href="#cR" x="460"/><use href="#cR" x="470"/><use href="#cB" x="480"/><use href="#cY" x="660"/><use href="#cB" x="680"/><use href="#cY" x="700"/><use href="#cB" x="720"/><use href="#cY" x="740"/><use href="#cB" x="750"/><use href="#cY" x="760"/><use href="#cG" x="780"/><use href="#cY" x="800"/><use href="#cG" x="820"/><use href="#cR" x="840"/><use href="#cY" x="850"/><use href="#cB" x="870"/><use href="#cY" x="885"/><use href="#cR" x="900"/>
<text class="tp" x="0" y="-19.5">♩=107</text><text class="tp" x="120" y="-19.5">♩=107</text><text class="tp" x="240" y="-19.5">♩=108</text><text class="tp" x="360" y="-19.5">♩=101</text><text class="tp" x="420" y="-19.5">♩=105</text><text class="tp" x="480" y="-19.5">♩=105</text><text class="tp" x="540" y="-19.5">♩=107</text><text class="tp" x="720" y="-19.5">♩=107</text><text class="tp" x="840" y="-19.5">♩=103</text>
<text class="mn" x="1" y="-6.5">77</text><text class="mn" x="241" y="-6.5">78</text><text class="mn" x="481" y="-6.5">79</text><text class="mn" x="721" y="-6.5">80</text>
<text class="nm" y="76.5"><tspan x="239">114</tspan><tspan class="n2" x="239" dy="13">117300</tspan><tspan class="n3" x="239" dy="13">0.00%</tspan></text><text class="nm" y="76.5"><tspan x="479">475</tspan><tspan class="n2" x="479" dy="13">119200</tspan><tspan class="n3" x="479" dy="13">0.00%</tspan></text><text class="nm" y="76.5"><tspan x="719">133</tspan><tspan class="n2" x="719" dy="13">119732</tspan><tspan class="n3" x="719" dy="13">0.00%</tspan></text><text class="nm" y="76.5"><tspan x="959">312</tspan><tspan class="n2" x="959" dy="13">120980</tspan><tspan class="n3" x="959" dy="13">0.00%</tspan></text>
</g>

<g id="row21" transform="translate(31,3025.3)"><rect class="bg" width="840" height="61"/><rect class="gb" y="-10" width="840" height="81"/><rect class="gr" width="840" height="61"/><path class="ml" d="M240,0V61M480,0V61M720,0V61"/><rect class="bd" width="840" height="61"/>
<text class="ts" x="723.5" y="27">2</text><text class="ts" x="723.5" y="57">4</text>
<rect class="zR" x="0" y="11.75" width="45" height="7"/><rect class="zO" x="60" y="57.5" width="105" height="7"/><rect class="zR" x="375" y="11.75" width="30" height="7"/><rect class="zR" x="435" y="11.75" width="30" height="7"/><rect class="zB" x="630" y="42.25" width="45" height="7"/><rect class="zY" x="720" y="27" width="75" height="7"/>
<use href="#cR"/><use href="#cO" x="60"/><use href="#cO" x="180"/><use href="#cR" x="200"/><use href="#cY" x="220"/><use href="#cB" x="240"/><use href="#cY" x="255"/><use href="#cY" x="270"/><use href="#cR" x="285"/><use href="#cG" x="300"/><use href="#cR" x="315"/><use href="#cY" x="330"/><use href="#sO" x="360"/><use href="#sR" x="375"/><use href="#sO" x="420"/><use href="#sR" x="435"/><use href="#sB" x="480"/><use href="#sY" x="495"/><use href="#sR" x="510"/><use href="#sY" x="525"/><use href="#sG" x="540"/><use href="#sR" x="555"/><use href="#sY" x="570"/><use href="#sB" x="585"/><use href="#cY" x="600"/><use href="#cB" x="630"/><use href="#cY" x="690"/><use href="#cB" x="705"/><use href="#cY" x="720"/><use href="#cB" x="810"/><use href="#cY" x="825"/>
<rect class="oy" x="360" y="-10" width="225" height="81"/><rect class="og" x="360" width="225" height="61"/><rect class="ob" x="810" width="30" height="61"/><rect class="pk" x="810" width="4" height="61"/>
<text class="tp" x="0" y="-19.5">♩=106</text><text class="tp" x="60" y="-19.5">♩=107</text><text class="tp" x="180" y="-19.5">♩=108</text><text class="tp" x="300" y="-19.5">♩=108</text><text class="tp" x="360" y="-19.5">♩=104</text><text class="tp" x="480" y="-19.5">♩=108</text><text class="tp" x="540" y="-19.5">♩=112</text><text class="tp" x="600" y="-19.5">♩=106</text><text class="tp" x="720" y="-19.5">♩=106</text>
<text class="mn" x="1" y="-6.5">81</text><text class="mn" x="241" y="-6.5">82</text><text class="mn" x="481" y="-6.5">83</text><text class="mn" x="721" y="-6.5">84</text>
<text class="nm" y="76.5"><tspan x="239">130</tspan><tspan class="n2" x="239" dy="13">121500</tspan><tspan class="n3" x="239" dy="13">0.00%</tspan></text><text class="nm" y="76.5"><tspan x="479">287</tspan><tspan class="n2" x="479" dy="13">122648</tspan><tspan class="n3" x="479" dy="13">3.40%</tspan></text><text class="nm" y="76.5"><tspan x="719">309</tspan><tspan class="n2" x="719" dy="13">123884</tspan><tspan class="n3" x="719" dy="13">28.40%</tspan></text><text class="nm" y="76.5"><tspan x="839">90</tspan><tspan class="n2" x="839" dy="13">124444</tspan><tspan class="n3" x="839" dy="13">27.07%</tspan></text>
</g>

<g id="row22" transform="translate(31,3166.3)"><use href="#stfg"/>
<text class="ts" x="4.5" y="27">4</text><text class="ts" x="4.5" y="57">4</text>
<rect class="zG" x="30" y="-3.5" width="45" height="7"/><rect class="zR" x="330" y="11.75" width="165" height="7"/><rect class="zY" x="840" y="27" width="75" height="7"/><rect class="zB" x="750" y="42.25" width="60" height="7"/>
<use href="#cR"/><use href="#cG" x="30"/><use href="#cG" x="90"/><use href="#cR" x="120"/><use href="#cY" x="150"/><use href="#cB" x="180"/><use href="#cO" x="210"/><use href="#cB" x="240"/><use href="#cY" x="270"/><use href="#cR" x="285"/><use href="#cG" x="300"/><use href="#cR" x="330"/><use href="#cG" x="510"/><use href="#cR" x="510"/><use href="#cG" x="540"/><use href="#cY" x="540"/><use href="#cR" x="570"/><use href="#cY" x="570"/><use href="#cR" x="600"/><use href="#cB" x="600"/><use href="#cB" x="630"/><use href="#cO" x="630"/><use href="#cG" x="660"/><use href="#cR" x="675"/><use href="#cG" x="690"/><use href="#cY" x="720"/><use href="#cB" x="750"/><use href="#cB" x="810"/><use href="#cY" x="840"/><use href="#cB" x="900"/><use href="#cY" x="945"/>
<rect class="ob" width="960" height="61"/>
<text class="tp" x="0" y="-19.5">♩=106</text><text class="tp" x="60" y="-19.5">♩=110</text><text class="tp" x="120" y="-19.5">♩=108</text><text class="tp" x="180" y="-19.5">♩=106</text><text class="tp" x="240" y="-19.5">♩=106</text><text class="tp" x="480" y="-19.5">♩=106</text><text class="tp" x="600" y="-19.5">♩=111</text><text class="tp" x="660" y="-19.5">♩=108</text><text class="tp" x="720" y="-19.5">♩=107</text><text class="tp" x="780" y="-19.5">♩=106</text>
<text class="mn" x="1" y="-6.5">85</text><text class="mn" x="241" y="-6.5">86</text><text class="mn" x="481" y="-6.5">87</text><text class="mn" x="721" y="-6.5">88</text>
<text class="nm" y="76.5"><tspan x="239">184</tspan><tspan class="n2" x="239" dy="13">125916</tspan><tspan class="n3" x="239" dy="13">14.57%</tspan></text><text class="nm" y="76.5"><tspan x="479">155</tspan><tspan class="n2" x="479" dy="13">127156</tspan><tspan class="n3" x="479" dy="13">2.07%</tspan></text><text class="nm" y="76.5"><tspan x="719">328</tspan><tspan class="n2" x="719" dy="13">129780</tspan><tspan class="n3" x="719" dy="13">0.00%</tspan></text><text class="nm" y="76.5"><tspan x="959">174</tspan><tspan class="n2" x="959" dy="13">131172</tspan><tspan class="n3" x="959" dy="13">0.00%</tspan></text>
</g>

<g id="row23" transform="translate(31,3307.3)"><use href="#stfg"/>
<rect class="zG" x="30" y="-3.5" width="45" height="7"/><rect class="zO" x="330" y="57.5" width="135" height="7"/><rect class="zY" x="690" y="27" width="270" height="7"/>
<use href="#cR"/><use href="#cG" x="30"/><use href="#cG" x="90"/><use href="#cR" x="120"/><use href="#cY" x="150"/><use href="#cB" x="180"/><use href="#cO" x="210"/><use href="#cB" x="240"/><use href="#cY" x="270"/><use href="#cR" x="285"/><use href="#cG" x="300"/><use href="#cO" x="330"/><use href="#sO" x="480"/><use href="#sB" x="510"/><use href="#sB" x="540"/><use href="#sY" x="570"/><use href="#sY" x="600"/><use href="#sR" x="630"/><use href="#sG" x="660"/><use href="#sY" x="690"/>
<rect class="ob" width="39" height="61"/><rect class="og" x="480" width="480" height="61"/>
<text class="tp" x="0" y="-19.5">♩=108</text><text class="tp" x="240" y="-19.5">♩=107</text><text class="tp" x="360" y="-19.5">♩=104</text><text class="tp" x="420" y="-19.5">♩=107</text><text class="tp" x="540" y="-19.5">♩=110</text><text class="tp" x="660" y="-19.5">♩=107</text><text class="tp" x="720" y="-19.5">♩=106</text><text class="tp" x="780" y="-19.5">♩=107</text><text class="tp" x="900" y="-19.5">♩=108</text>
<text class="mn" x="1" y="-6.5">89</text><text class="mn" x="241" y="-6.5">90</text><text class="mn" x="481" y="-6.5">91</text><text class="mn" x="721" y="-6.5">92</text>
<text class="nm" y="76.5"><tspan x="239">184</tspan><tspan class="n2" x="239" dy="13">132116</tspan><tspan class="n3" x="239" dy="13">0.00%</tspan></text><text class="nm" y="76.5"><tspan x="479">152</tspan><tspan class="n2" x="479" dy="13">132724</tspan><tspan class="n3" x="479" dy="13">0.00%</tspan></text><text class="nm" y="76.5"><tspan x="719">206</tspan><tspan class="n2" x="719" dy="13">133548</tspan><tspan class="n3" x="719" dy="13">26.70%</tspan></text><text class="nm" y="76.5"><tspan x="959">48</tspan><tspan class="n2" x="959" dy="13">133740</tspan><tspan class="n3" x="959" dy="13">40.30%</tspan></text>
</g>

<g id="row24" transform="translate(31,3448.3)"><use href="#stfg"/>
<rect class="zY" x="0" y="27" width="15" height="7"/><rect class="zR" x="150" y="11.75" width="30" height="7"/><rect class="zB" x="225" y="42.25" width="270" height="7"/><rect class="zR" x="630" y="11.75" width="30" height="7"/><rect class="zB" x="705" y="42.25" width="255" height="7"/>
<use href="#cR" x="30"/><use href="#cB" x="45"/><use href="#cO" x="60"/><use href="#cB" x="75"/><use href="#cY" x="82.5"/><use href="#cB" x="90"/><use href="#cR" x="105"/><use href="#cB" x="120"/><use href="#cG" x="135"/><use href="#cR" x="150"/><use href="#cR" x="195"/><use href="#cY" x="210"/><use href="#cB" x="225"/><use href="#cY" x="510"/><use href="#cB" x="525"/><use href="#cO" x="540"/><use href="#cB" x="555"/><use href="#cY" x="562.5"/><use href="#cB" x="570"/><use href="#cR" x="585"/><use href="#cB" x="600"/><use href="#cG" x="615"/><use href="#cR" x="630"/><use href="#cR" x="675"/><use href="#cY" x="690"/><use href="#cB" x="705"/>
<rect class="og" width="15" height="61"/>
<text class="tp" x="120" y="-19.5">♩=104</text><text class="tp" x="180" y="-19.5">♩=102</text><text class="tp" x="240" y="-19.5">♩=107</text><text class="tp" x="420" y="-19.5">♩=109</text><text class="tp" x="480" y="-19.5">♩=107</text><text class="tp" x="600" y="-19.5">♩=105</text><text class="tp" x="660" y="-19.5">♩=104</text><text class="tp" x="720" y="-19.5">♩=108</text><text class="tp" x="840" y="-19.5">♩=107</text>
<text class="mn" x="1" y="-6.5">93</text><text class="mn" x="241" y="-6.5">94</text><text class="mn" x="481" y="-6.5">95</text><text class="mn" x="721" y="-6.5">96</text>
<text class="nm" y="76.5"><tspan x="239">337</tspan><tspan class="n2" x="239" dy="13">135088</tspan><tspan class="n3" x="239" dy="13">41.15%</tspan></text><text class="nm" y="76.5"><tspan x="479">48</tspan><tspan class="n2" x="479" dy="13">135280</tspan><tspan class="n3" x="479" dy="13">41.15%</tspan></text><text class="nm" y="76.5"><tspan x="719">337</tspan><tspan class="n2" x="719" dy="13">136628</tspan><tspan class="n3" x="719" dy="13">41.15%</tspan></text><text class="nm" y="76.5"><tspan x="959">48</tspan><tspan class="n2" x="959" dy="13">136820</tspan><tspan class="n3" x="959" dy="13">41.15%</tspan></text>
</g>

<g id="row25" transform="translate(31,3589.3)"><use href="#stfg"/>
<rect class="zB" x="0" y="42.25" width="15" height="7"/><rect class="zR" x="150" y="11.75" width="30" height="7"/><rect class="zB" x="217.5" y="42.25" width="277.5" height="7"/><rect class="zR" x="630" y="11.75" width="30" height="7"/><rect class="zB" x="705" y="42.25" width="255" height="7"/>
<use href="#cY" x="30"/><use href="#cB" x="45"/><use href="#cO" x="60"/><use href="#cB" x="75"/><use href="#cY" x="82.5"/><use href="#cB" x="90"/><use href="#cR" x="105"/><use href="#cB" x="120"/><use href="#cG" x="135"/><use href="#cR" x="150"/><use href="#cR" x="195"/><use href="#cY" x="210"/><use href="#cB" x="217.5"/><use href="#cY" x="510"/><use href="#cB" x="525"/><use href="#cO" x="540"/><use href="#cB" x="555"/><use href="#cY" x="562.5"/><use href="#cB" x="570"/><use href="#cR" x="585"/><use href="#cB" x="600"/><use href="#cG" x="615"/><use href="#cR" x="630"/><use href="#cR" x="675"/><use href="#cY" x="690"/><use href="#cB" x="705"/>
<text class="tp" x="0" y="-19.5">♩=107</text><text class="tp" x="120" y="-19.5">♩=105</text><text class="tp" x="240" y="-19.5">♩=107</text><text class="tp" x="480" y="-19.5">♩=108</text><text class="tp" x="600" y="-19.5">♩=103</text><text class="tp" x="720" y="-19.5">♩=108</text>
<text class="mn" x="1" y="-6.5">97</text><text class="mn" x="241" y="-6.5">98</text><text class="mn" x="481" y="-6.5">99</text><text class="mn" x="721" y="-6.5">100</text>
<text class="nm" y="76.5"><tspan x="239">338</tspan><tspan class="n2" x="239" dy="13">138172</tspan><tspan class="n3" x="239" dy="13">41.15%</tspan></text><text class="nm" y="76.5"><tspan x="479">48</tspan><tspan class="n2" x="479" dy="13">138364</tspan><tspan class="n3" x="479" dy="13">41.15%</tspan></text><text class="nm" y="76.5"><tspan x="719">338</tspan><tspan class="n2" x="719" dy="13">139716</tspan><tspan class="n3" x="719" dy="13">41.15%</tspan></text><text class="nm" y="76.5"><tspan x="959">48</tspan><tspan class="n2" x="959" dy="13">139908</tspan><tspan class="n3" x="959" dy="13">41.15%</tspan></text>
</g>

<g id="row26" transform="translate(31,3730.3)"><rect class="bg" width="840" height="61"/><rect class="gb" y="-10" width="840" height="81"/><rect class="gr" width="840" height="61"/><path class="ml" d="M240,0V61M480,0V61M600,0V61"/><rect class="bd" width="840" height="61"/>
<text class="ts" x="483.5" y="27">2</text><text class="ts" x="483.5" y="57">4</text><text class="ts" x="603.5" y="27">4</text><text class="ts" x="603.5" y="57">4</text>
<rect class="zB" x="0" y="42.25" width="15" height="7"/><rect class="zY" x="60" y="27" width="45" height="7"/><rect class="zY" x="135" y="27" width="30" height="7"/><rect class="zY" x="195" y="27" width="30" height="7"/><rect class="zY" x="390" y="27" width="60" height="7"/><rect class="zO" x="390" y="57.5" width="60" height="7"/><rect class="zO" x="615" y="57.5" width="30" height="7"/><rect class="zR" x="660" y="11.75" width="45" height="7"/><rect class="zG" x="720" y="-3.5" width="45" height="7"/><rect class="zY" x="720" y="27" width="52" height="7"/><rect class="zG" x="780" y="-3.5" width="45" height="7"/><rect class="zB" x="780" y="42.25" width="45" height="7"/>
<use href="#cG" x="30"/><use href="#cR" x="45"/><use href="#cY" x="60"/><use href="#cO" x="120"/><use href="#cY" x="135"/><use href="#cO" x="180"/><use href="#cY" x="195"/><use href="#cB" x="240"/><use href="#cY" x="255"/><use href="#cR" x="270"/><use href="#cY" x="285"/><use href="#cG" x="300"/><use href="#cR" x="315"/><use href="#cY" x="330"/><use href="#cB" x="345"/><use href="#sO" x="360"/><use href="#sY" x="390"/><use href="#sO" x="390"/><use href="#sB" x="600"/><use href="#sO" x="615"/><use href="#sR" x="660"/><use href="#sG" x="720"/><use href="#sY" x="720"/><use href="#sG" x="780"/><use href="#sB" x="780"/>
<rect class="oy" x="360" y="-10" width="480" height="81"/><rect class="og" x="360" width="480" height="61"/><rect class="ob" x="753" width="87" height="61"/>
<text class="tp" x="0" y="-19.5">♩=107</text><text class="tp" x="120" y="-19.5">♩=104</text><text class="tp" x="180" y="-19.5">♩=103</text><text class="tp" x="240" y="-19.5">♩=112</text><text class="tp" x="300" y="-19.5">♩=111</text><text class="tp" x="360" y="-19.5">♩=108</text><text class="tp" x="480" y="-19.5">♩=106</text><text class="tp" x="600" y="-19.5">♩=106</text><text class="tp" x="660" y="-19.5">♩=100</text><text class="tp" x="720" y="-19.5">♩=112</text><text class="tp" x="780" y="-19.5">♩=114</text>
<text class="mn" x="1" y="-6.5">101</text><text class="mn" x="241" y="-6.5">102</text><text class="mn" x="481" y="-6.5">103</text><text class="mn" x="601" y="-6.5">104</text>
<text class="nm" y="76.5"><tspan x="239">199</tspan><tspan class="n2" x="239" dy="13">140704</tspan><tspan class="n3" x="239" dy="13">41.15%</tspan></text><text class="nm" y="76.5"><tspan x="479">299</tspan><tspan class="n2" x="479" dy="13">141900</tspan><tspan class="n3" x="479" dy="13">44.55%</tspan></text><text class="nm" y="76.5"><tspan x="599">0</tspan><tspan class="n2" x="599" dy="13">141900</tspan><tspan class="n3" x="599" dy="13">44.55%</tspan></text><text class="nm" y="76.5"><tspan x="839">226</tspan><tspan class="n2" x="839" dy="13">143096</tspan><tspan class="n3" x="839" dy="13">49.45%</tspan></text>
</g>

<g id="row27" transform="translate(31,3871.3)"><use href="#stfg"/>
<rect class="zY" x="180" y="27" width="45" height="7"/><rect class="zB" x="180" y="42.25" width="45" height="7"/><rect class="zG" x="420" y="-3.5" width="45" height="7"/><rect class="zO" x="570" y="57.5" width="45" height="7"/><rect class="zG" x="780" y="-3.5" width="45" height="7"/><rect class="zR" x="840" y="11.75" width="45" height="7"/><rect class="zY" x="900" y="27" width="45" height="7"/>
<use href="#sR"/><use href="#sR" x="30"/><use href="#sB"/><use href="#sB" x="30"/><use href="#cY" x="60"/><use href="#cB" x="60"/><use href="#cR" x="80"/><use href="#cY" x="80"/><use href="#cB" x="90"/><use href="#cY" x="90"/><use href="#cY" x="120"/><use href="#cB" x="120"/><use href="#cR" x="140"/><use href="#cY" x="140"/><use href="#cY" x="150"/><use href="#cB" x="150"/><use href="#cB" x="170"/><use href="#cO" x="170"/><use href="#cY" x="180"/><use href="#cB" x="180"/><use href="#cO" x="240"/><use href="#cB" x="250"/><use href="#cR" x="260"/><use href="#cY" x="270"/><use href="#cY" x="300"/><use href="#cR" x="310"/><use href="#cG" x="320"/><use href="#cB" x="330"/><use href="#cB" x="360"/><use href="#cY" x="370"/><use href="#cR" x="380"/><use href="#cR" x="390"/><use href="#cG" x="420"/><use href="#cR" x="480"/><use href="#cB" x="480"/><use href="#cR" x="510"/><use href="#cB" x="510"/><use href="#cR" x="540"/><use href="#cY" x="550"/><use href="#cB" x="560"/><use href="#cO" x="570"/><use href="#cB" x="630"/><use href="#cR" x="660"/><use href="#cB" x="690"/><use href="#cY" x="720"/><use href="#cR" x="750"/><use href="#cG" x="780"/><use href="#cR" x="840"/><use href="#cY" x="900"/>
<rect class="oy" y="-10" width="30" height="81"/><rect class="og" width="30" height="61"/><rect class="ob" width="960" height="61"/>
<text class="tp" x="0" y="-19.5">♩=112</text><text class="tp" x="60" y="-19.5">♩=109</text><text class="tp" x="120" y="-19.5">♩=113</text><text class="tp" x="180" y="-19.5">♩=95</text><text class="tp" x="240" y="-19.5">♩=101</text><text class="tp" x="300" y="-19.5">♩=104</text><text class="tp" x="360" y="-19.5">♩=107</text><text class="tp" x="420" y="-19.5">♩=94</text><text class="tp" x="480" y="-19.5">♩=103</text><text class="tp" x="540" y="-19.5">♩=113</text><text class="tp" x="600" y="-19.5">♩=111</text><text class="tp" x="660" y="-19.5">♩=106</text><text class="tp" x="720" y="-19.5">♩=109</text><text class="tp" x="752" y="-19.5">♩=90</text><text class="tp" x="780" y="-19.5">♩=98</text><text class="tp" x="840" y="-19.5">♩=109</text><text class="tp" x="900" y="-19.5">♩=116</text>
<text class="mn" x="1" y="-6.5">105</text><text class="mn" x="241" y="-6.5">106</text><text class="mn" x="481" y="-6.5">107</text><text class="mn" x="721" y="-6.5">108</text>
<text class="nm" y="76.5"><tspan x="239">518</tspan><tspan class="n2" x="239" dy="13">147240</tspan><tspan class="n3" x="239" dy="13">61.95%</tspan></text><text class="nm" y="76.5"><tspan x="479">334</tspan><tspan class="n2" x="479" dy="13">149912</tspan><tspan class="n3" x="479" dy="13">49.45%</tspan></text><text class="nm" y="76.5"><tspan x="719">284</tspan><tspan class="n2" x="719" dy="13">152184</tspan><tspan class="n3" x="719" dy="13">36.95%</tspan></text><text class="nm" y="76.5"><tspan x="959">152</tspan><tspan class="n2" x="959" dy="13">153400</tspan><tspan class="n3" x="959" dy="13">24.45%</tspan></text>
</g>

<g id="row28" transform="translate(31,4012.3)"><rect class="bg" width="960" height="61"/><rect class="gb" y="-10" width="480" height="81"/><rect class="gr" width="960" height="61"/><path class="ml" d="M240,0V61M480,0V61M720,0V61"/><rect class="bd" width="960" height="61"/>
<rect class="zO" x="0" y="57.5" width="465" height="7"/>
<use href="#cO"/><use href="#r8" x="480"/><use href="#cG" x="840"/><use href="#cG" x="870"/><use href="#cG" x="885"/><use href="#cG" x="915"/><use href="#cY" x="930"/>
<rect class="ob" width="960" height="61"/><rect class="pk" x="950" width="10" height="61"/>
<text class="tp" x="0" y="-19.5">♩=101</text><text class="tp" x="120" y="-19.5">♩=109</text><text class="tp" x="180" y="-19.5">♩=109</text><text class="tp" x="240" y="-19.5">♩=113</text><text class="tp" x="300" y="-19.5">♩=109</text><text class="tp" x="360" y="-19.5">♩=109</text><text class="tp" x="420" y="-19.5">♩=106</text><text class="tp" x="480" y="-19.5">♩=106</text><text class="tp" x="600" y="-19.5">♩=106</text><text class="tp" x="720" y="-19.5">♩=108</text><text class="tp" x="840" y="-19.5">♩=107</text>
<text class="mn" x="1" y="-6.5">109</text><text class="mn" x="241" y="-6.5">110</text><text class="mn" x="481" y="-6.5">111</text><text class="mn" x="721" y="-6.5">112</text>
<text class="nm" y="76.5"><tspan x="239">73</tspan><tspan class="n2" x="239" dy="13">153984</tspan><tspan class="n3" x="239" dy="13">11.95%</tspan></text><text class="nm" y="76.5"><tspan x="479">45</tspan><tspan class="n2" x="479" dy="13">154344</tspan><tspan class="n3" x="479" dy="13">0.00%</tspan></text><text class="nm" y="76.5"><tspan x="719">300</tspan><tspan class="n2" x="719" dy="13">184644</tspan><tspan class="n3" x="719" dy="13">0.00%</tspan></text><text class="nm" y="76.5"><tspan x="959">275</tspan><tspan class="n2" x="959" dy="13">186844</tspan><tspan class="n3" x="959" dy="13">0.00%</tspan></text>
</g>

<g id="row29" transform="translate(31,4153.3)"><use href="#stf"/>
<rect class="zB" x="480" y="42.25" width="375" height="7"/><rect class="zY" x="870" y="27" width="45" height="7"/><rect class="zB" x="930" y="42.25" width="30" height="7"/>
<use href="#cR"/><use href="#cR" x="30"/><use href="#cR" x="60"/><use href="#cR" x="75"/><use href="#cR" x="120"/><use href="#cR" x="150"/><use href="#cR" x="180"/><use href="#cR" x="195"/><use href="#cB"/><use href="#cB" x="30"/><use href="#cB" x="120"/><use href="#cB" x="150"/><use href="#sR" x="240"/><use href="#sR" x="270"/><use href="#sR" x="300"/><use href="#sR" x="315"/><use href="#sB" x="240"/><use href="#sB" x="270"/><use href="#sG" x="360"/><use href="#sG" x="390"/><use href="#sG" x="405"/><use href="#sG" x="435"/><use href="#sY" x="450"/><use href="#cB" x="480"/><use href="#cY" x="870"/><use href="#cB" x="930"/>
<rect class="og" x="240" width="210" height="61"/>
<text class="tp" x="0" y="-19.5">♩=107</text><text class="tp" x="180" y="-19.5">♩=108</text><text class="tp" x="240" y="-19.5">♩=110</text><text class="tp" x="480" y="-19.5">♩=107</text><text class="tp" x="660" y="-19.5">♩=107</text><text class="tp" x="720" y="-19.5">♩=110</text><text class="tp" x="900" y="-19.5">♩=108</text>
<text class="mn" x="1" y="-6.5">113</text><text class="mn" x="241" y="-6.5">114</text><text class="mn" x="481" y="-6.5">115</text><text class="mn" x="721" y="-6.5">116</text>
<text class="nm" y="76.5"><tspan x="239">300</tspan><tspan class="n2" x="239" dy="13">188244</tspan><tspan class="n3" x="239" dy="13">0.00%</tspan></text><text class="nm" y="76.5"><tspan x="479">275</tspan><tspan class="n2" x="479" dy="13">189344</tspan><tspan class="n3" x="479" dy="13">25.00%</tspan></text><text class="nm" y="76.5"><tspan x="719">73</tspan><tspan class="n2" x="719" dy="13">189636</tspan><tspan class="n3" x="719" dy="13">25.00%</tspan></text><text class="nm" y="76.5"><tspan x="959">92</tspan><tspan class="n2" x="959" dy="13">190004</tspan><tspan class="n3" x="959" dy="13">25.00%</tspan></text>
</g>

<g id="row30" transform="translate(31,4294.3)"><use href="#stf"/>
<rect class="zB" x="0" y="42.25" width="30" height="7"/><rect class="zO" x="45" y="57.5" width="30" height="7"/><rect class="zY" x="90" y="27" width="255" height="7"/><rect class="zG" x="520" y="-3.5" width="305" height="7"/><rect class="zG" x="855" y="-3.5" width="30" height="7"/><rect class="zB" x="915" y="42.25" width="30" height="7"/>
<use href="#cO" x="45"/><use href="#cY" x="90"/><use href="#cB" x="360"/><use href="#cY" x="400"/><use href="#cR" x="440"/><use href="#cY" x="480"/><use href="#cG" x="520"/><use href="#cR" x="840"/><use href="#cG" x="855"/><use href="#cR" x="900"/><use href="#cB" x="915"/>
<text class="tp" x="0" y="-19.5">♩=108</text><text class="tp" x="60" y="-19.5">♩=107</text><text class="tp" x="120" y="-19.5">♩=107</text><text class="tp" x="180" y="-19.5">♩=110</text><text class="tp" x="240" y="-19.5">♩=110</text><text class="tp" x="360" y="-19.5">♩=108</text><text class="tp" x="480" y="-19.5">♩=108</text><text class="tp" x="600" y="-19.5">♩=109</text><text class="tp" x="720" y="-19.5">♩=110</text><text class="tp" x="780" y="-19.5">♩=111</text><text class="tp" x="840" y="-19.5">♩=105</text>
<text class="mn" x="1" y="-6.5">117</text><text class="mn" x="241" y="-6.5">118</text><text class="mn" x="481" y="-6.5">119</text><text class="mn" x="721" y="-6.5">120</text>
<text class="nm" y="76.5"><tspan x="239">92</tspan><tspan class="n2" x="239" dy="13">190372</tspan><tspan class="n3" x="239" dy="13">25.00%</tspan></text><text class="nm" y="76.5"><tspan x="479">96</tspan><tspan class="n2" x="479" dy="13">190756</tspan><tspan class="n3" x="479" dy="13">25.00%</tspan></text><text class="nm" y="76.5"><tspan x="719">90</tspan><tspan class="n2" x="719" dy="13">191116</tspan><tspan class="n3" x="719" dy="13">25.00%</tspan></text><text class="nm" y="76.5"><tspan x="959">133</tspan><tspan class="n2" x="959" dy="13">191648</tspan><tspan class="n3" x="959" dy="13">25.00%</tspan></text>
</g>

<g id="row31" transform="translate(31,4435.3)"><use href="#stf"/>
<rect class="zR" x="7.5" y="11.75" width="37.5" height="7"/><rect class="zY" x="60" y="27" width="285" height="7"/><rect class="zG" x="375" y="-3.5" width="30" height="7"/><rect class="zY" x="435" y="27" width="30" height="7"/><rect class="zB" x="480" y="42.25" width="135" height="7"/><rect class="zO" x="630" y="57.5" width="165" height="7"/><rect class="zO" x="840" y="57.5" width="45" height="7"/><rect class="zO" x="915" y="57.5" width="30" height="7"/>
<use href="#cY"/><use href="#cR" x="7.5"/><use href="#cY" x="60"/><use href="#cR" x="360"/><use href="#cG" x="375"/><use href="#cR" x="420"/><use href="#cY" x="435"/><use href="#sB" x="480"/><use href="#sO" x="630"/><use href="#cB" x="810"/><use href="#cO" x="840"/><use href="#cY" x="900"/><use href="#cO" x="915"/>
<rect class="og" x="480" width="315" height="61"/>
<text class="tp" x="0" y="-19.5">♩=107</text><text class="tp" x="240" y="-19.5">♩=110</text><text class="tp" x="360" y="-19.5">♩=107</text><text class="tp" x="420" y="-19.5">♩=98</text><text class="tp" x="480" y="-19.5">♩=106</text><text class="tp" x="600" y="-19.5">♩=109</text><text class="tp" x="720" y="-19.5">♩=109</text><text class="tp" x="840" y="-19.5">♩=103</text>
<text class="mn" x="1" y="-6.5">121</text><text class="mn" x="241" y="-6.5">122</text><text class="mn" x="481" y="-6.5">123</text><text class="mn" x="721" y="-6.5">124</text>
<text class="nm" y="76.5"><tspan x="239">119</tspan><tspan class="n2" x="239" dy="13">192124</tspan><tspan class="n3" x="239" dy="13">25.00%</tspan></text><text class="nm" y="76.5"><tspan x="479">133</tspan><tspan class="n2" x="479" dy="13">192656</tspan><tspan class="n3" x="479" dy="13">25.00%</tspan></text><text class="nm" y="76.5"><tspan x="719">95</tspan><tspan class="n2" x="719" dy="13">193036</tspan><tspan class="n3" x="719" dy="13">25.00%</tspan></text><text class="nm" y="76.5"><tspan x="959">130</tspan><tspan class="n2" x="959" dy="13">193556</tspan><tspan class="n3" x="959" dy="13">25.00%</tspan></text>
</g>

<g id="row32" transform="translate(31,4576.3)"><use href="#stf"/><text class="mn" x="1" y="-6.5">125</text><text class="mn" x="241" y="-6.5">126</text><text class="mn" x="481" y="-6.5">127</text><text class="mn" x="721" y="-6.5">128</text></g>
<g id="row33" transform="translate(31,4717.3)"><use href="#stf"/><text class="mn" x="1" y="-6.5">129</text><text class="mn" x="241" y="-6.5">130</text><text class="mn" x="481" y="-6.5">131</text><text class="mn" x="721" y="-6.5">132</text></g>
<g id="row34" transform="translate(31,4858.3)"><rect class="bg" width="840" height="61"/><rect class="gr" width="840" height="61"/><path class="ml" d="M240,0V61M360,0V61M600,0V61"/><rect class="bd" width="840" height="61"/>
<text class="ts" x="243.5" y="27">2</text><text class="ts" x="243.5" y="57">4</text><text class="ts" x="363.5" y="27">4</text><text class="ts" x="363.5" y="57">4</text>
<rect class="ob" x="790" width="50" height="61"/>
<text class="mn" x="1" y="-6.5">133</text><text class="mn" x="241" y="-6.5">134</text><text class="mn" x="361" y="-6.5">135</text><text class="mn" x="601" y="-6.5">136</text></g>
<g id="row35" transform="translate(31,4999.3)"><use href="#stf"/><rect class="og" x="246" width="104" height="61"/><rect class="ob" width="960" height="61"/><text class="mn" x="1" y="-6.5">137</text><text class="mn" x="241" y="-6.5">138</text><text class="mn" x="481" y="-6.5">139</text><text class="mn" x="721" y="-6.5">140</text></g>
<g id="row36" transform="translate(31,5140.3)"><use href="#stf"/><rect class="ob" width="480" height="61"/><text class="mn" x="1" y="-6.5">141</text><text class="mn" x="241" y="-6.5">142</text><text class="mn" x="481" y="-6.5">143</text><text class="mn" x="721" y="-6.5">144</text></g>
<g id="row37" transform="translate(31,5281.3)"><rect class="bg" width="240" height="61"/><rect class="gr" width="240" height="61"/><rect class="bd" width="240" height="61"/><text class="mn" x="1" y="-6.5">145</text><text class="nm" y="89.5"><tspan class="n2" x="239">217844</tspan></text></g>
</g>
</svg>
